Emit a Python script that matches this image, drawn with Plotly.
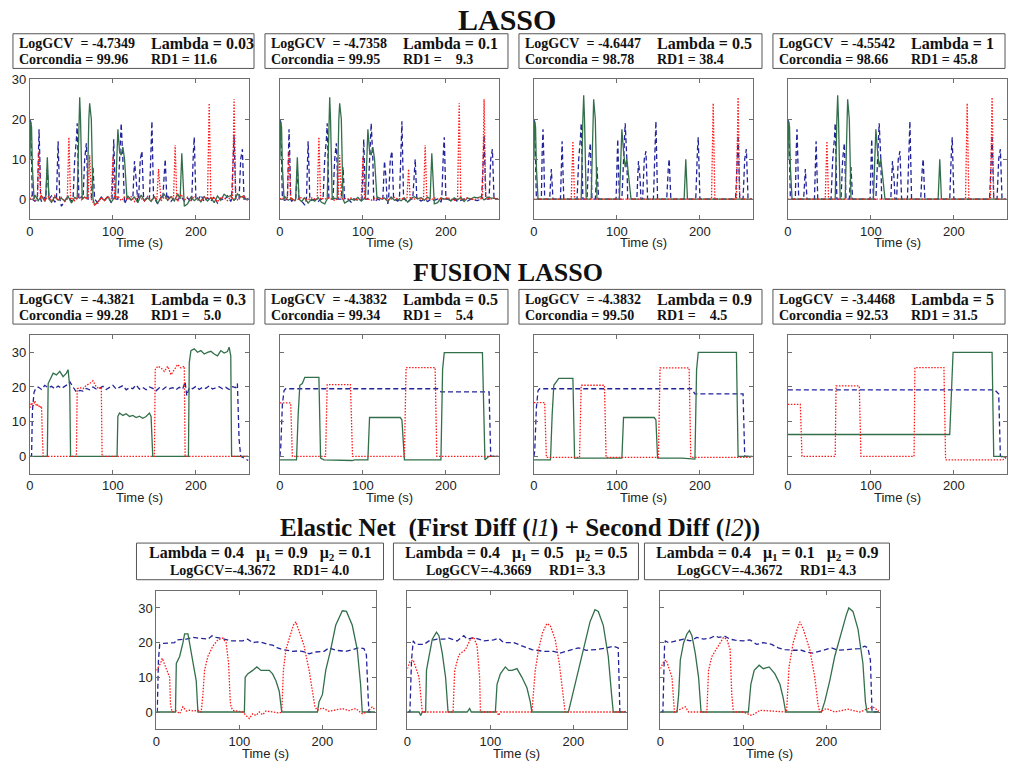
import numpy as np
import plotly.graph_objects as go

W, H = 1011, 767
X_MAX = 264

# ---------------- LASSO data ----------------
las_blue_t = [0, 1, 3, 9, 10, 11, 12, 13, 19, 21, 23, 32, 34, 35, 36, 52, 54, 56, 57, 58, 59, 64, 66, 68, 69, 70,
              74, 76, 78, 99, 101, 102, 103, 106, 108, 110, 112, 113, 124, 126, 128, 129, 131, 133, 135, 137,
              144, 146, 147, 149, 160, 162, 163, 165, 195, 197, 198, 200, 243, 245, 246, 248, 252, 254, 256, 258, 263]
las_blue_v = [20, 19, 0, 0, 12, 17.5, 10, 0, 0, 7.5, 0, 0, 14.5, 8, 0, 0, 10, 15, 19, 10, 0, 0, 10, 14, 8, 0,
              0, 8, 0, 0, 15, 8, 0, 0, 12, 19, 10, 0, 0, 9.5, 5, 0, 0, 10, 12, 0,
              0, 15, 19.5, 0, 0, 8, 10, 0, 0, 12, 15.5, 0, 0, 10, 16, 0, 0, 10, 12.5, 0, 0]

las_red_t = [0, 9, 11, 13, 45, 47, 49, 70, 72, 74, 98, 100, 102, 153, 155, 157, 173, 175, 177, 214, 216, 218, 244, 246, 248, 263]
las_red_v = [0, 0, 12, 0, 0, 15.5, 0, 0, 11, 0, 0, 10.5, 0, 0, 7.5, 0, 0, 13.5, 0, 0, 24, 0, 0, 25, 0, 0]

las_green_t = [0, 1, 2, 3, 5, 19, 21, 23, 57, 59, 60, 61, 63, 69, 71, 72, 74, 76, 103, 105, 106, 108, 110, 112, 114, 117, 181, 183, 185, 263]
las_green_v = [10, 19.5, 18, 8, 0, 0, 10.5, 0, 0, 20, 25.5, 20, 0, 0, 20, 24, 20, 0, 0, 15, 17.5, 12, 11, 13, 10, 0, 0, 11.5, 0, 0]

las_red_sparse_t = [0, 45, 47, 49, 214, 216, 218, 244, 246, 247, 248, 263]
las_red_sparse_v = [0, 0, 14.5, 0, 0, 24, 0, 0, 25.5, 16, 0, 0]

las_green_sparse_t = [0, 1, 2, 3, 5, 57, 59, 60, 61, 63, 69, 71, 72, 74, 76, 103, 105, 106, 108, 110, 112, 114, 117, 181, 183, 185, 263]
las_green_sparse_v = [10, 19.5, 18, 8, 0, 0, 20, 26, 20, 0, 0, 20, 25, 20, 0, 0, 15, 17.5, 12, 8, 10, 6, 0, 0, 10, 0, 0]

noise_t = [2, 6, 10, 14, 18, 22, 26, 30, 34, 38, 42, 46, 50, 54, 58, 62, 66, 70, 74, 78, 82, 86, 90, 94, 98, 102,
           106, 110, 114, 118, 122, 126, 130, 134, 138, 142, 146, 150, 154, 158, 162, 166, 170, 174, 178, 182,
           186, 190, 194, 198, 202, 206, 210, 214, 218, 222, 226, 230, 234, 238, 242, 246, 250, 254, 258, 262]

las1_blue_noise = [-1.5, -0.5, 0.4, -0.6, 0.5, -0.3, 0.8, -0.8, 0.3, -1.8,
                   -0.4, 0.6, -0.5, 0.4, -0.3, 0.6, -0.2, 0.8, -0.6, 0.2,
                   -1.0, 0.5, -0.3, 0.7, -0.9, 0.3, -0.5, 0.4, -1.2, 0.6,
                   -0.2, 0.9, -0.7, 0.3, -0.4, 0.6, -0.9, 0.2, -1.2, 0.5,
                   -0.3, 0.8, -0.6, 0.4, -0.2, 0.7, -0.5, 0.3, -0.8, 0.5,
                   -0.4, 1.0, -0.7, 0.3, -0.5, 0.6, -1.0, 0.2, -0.3, 0.8,
                   -0.6, 0.4, -0.2, 0.5, -0.8, 0.3]
las1_red_noise = [0.8, -0.4, 0.5, 1.0, -0.3, 0.6, -0.5, 0.9, -0.2, 0.4,
                  -0.6, 0.7, 0.3, -0.4, 0.8, -0.2, 0.5, -0.7, -1.2, -1.5,
                  -0.8, 0.4, -0.3, 0.6, -0.5, 0.3, 0.8, -0.4, 0.5, -0.2,
                  0.6, -0.6, 0.9, 0.2, -0.5, 0.7, -0.3, 0.4, 1.0, -0.4,
                  0.5, -0.2, 0.8, 0.3, -0.6, 1.2, -0.3, 0.5, -0.4, 0.7,
                  0.2, -0.5, 0.6, 0.9, -0.3, 0.4, -0.7, 0.5, 0.3, -0.4,
                  0.6, 1.0, -0.2, 0.5, 0.8, -0.3]
las1_green_noise = [0.5, 1.0, -0.4, 0.8, -0.6, 0.3, -0.8, 0.6, -0.3, 0.2,
                    -0.5, 0.7, -1.0, 0.4, -0.2, -1.2, 0.5, -0.7, 0.9, -1.5,
                    -0.6, 0.3, -0.4, 0.6, -0.8, 0.5, -0.3, 0.4, -0.6, 0.8,
                    -0.2, 0.5, -0.9, 1.0, -0.4, 0.3, -0.6, 0.7, -1.1, 0.4,
                    1.2, -0.3, 0.6, -0.5, 1.3, -0.8, -1.8, -1.2, 0.5, -0.4,
                    0.3, -0.7, 0.6, -0.5, 0.4, -0.9, 0.8, -0.3, 1.2, 0.5,
                    0.9, -0.4, 1.3, 0.6, 0.4, -0.2]

las2_blue_noise = [-1.0, -0.3, 0, -0.5, 0, 0, -0.4, -1.5, -0.8, -0.3,
                   0, -0.6, 0, 0, -0.3, 0, -0.5, -0.2, -1.0, -0.4,
                   0, -0.8, 0, -0.3, 0, -0.6, 0, -0.2, -0.7, 0,
                   -0.4, 0, -1.2, -0.3, 0, -0.5, -0.2, 0, -0.8, 0,
                   -0.3, 0, -0.5, 0, -0.6, 0, -0.3, 0, -0.7, -0.2,
                   0, -0.4, 0, -0.6, -0.3, 0, -0.5, 0, -0.2, -0.4,
                   0, -0.5, 0, -0.3, -0.6, 0]
las2_red_noise = [0.3, 0, 0.2, 0, -0.3, 0, 0.4, 0, -0.2, 0.3,
                  0, -0.4, 0.2, 0, 0.3, 0, -0.3, 0, -0.5, 0.2,
                  0, 0.3, 0, -0.2, 0, 0.4, 0, -0.3, 0.2, 0,
                  0.3, 0, -0.2, 0, 0.4, 0, 0.2, 0, -0.3, 0.2,
                  0, 0.3, 0, 0.5, 0, -0.2, 0.3, 0, 0.2, 0,
                  0.4, 0, -0.3, 0, 0.2, 0, 0.3, 0, -0.2, 0.3,
                  0, 0.4, 0.2, 0, 0.3, 0]
las2_green_noise = [0.4, 0.6, -0.3, 0.2, -0.4, 0, -0.6, 0.3, -1.0, 0,
                    -0.5, 0.4, -0.8, -1.2, 0, -0.9, 0.2, -0.4, 0.3, -1.0,
                    -0.5, 0, -0.3, 0.4, -0.5, 0.2, 0, 0.3, -0.4, 0.5,
                    0, 0.3, -0.6, 0.5, -0.3, 0, -0.4, 0.3, -0.8, 0.2,
                    0.6, 0, 0.4, -0.3, 0.5, -0.6, -1.2, -0.9, 0.3, 0,
                    0.2, -0.5, 0.3, -0.2, 0.4, -0.6, 0.3, 0, 0.5, 0.3,
                    0.6, -0.2, 0.5, 0.3, 0.2, 0]

# ---------------- FUSION LASSO data ----------------
fus1_blue_t = [0, 2, 3, 5, 7, 10, 14, 18, 22, 26, 30, 34, 38, 42, 46, 48, 52, 56, 60, 64, 68, 72, 76, 80, 84, 88, 92, 96,
               100, 104, 108, 112, 116, 120, 124, 128, 132, 136, 140, 144, 148, 152, 156, 160, 164, 168, 172, 176, 180,
               184, 187, 189, 192, 196, 200, 204, 208, 212, 216, 220, 224, 228, 232, 236, 240, 244, 248, 250, 252, 254, 258, 263]
fus1_blue_v = [0, 0, 13, 18.5, 19.5, 20, 19.3, 20.5, 19.8, 20.2, 19.5, 20.3, 19.6, 20.1, 20.8, 21.5, 19.8, 18.5, 19, 18.8,
               19.6, 19.2, 20, 19.4, 19.7, 20.2, 19.3, 19.8, 20.5, 19.4, 19.9, 20.4, 19.2, 19.8, 19.5, 20.6, 19.4, 19.9,
               19.2, 20, 19.6, 18.9, 19.8, 19.3, 20, 19.5, 19.8, 19.2, 19.9, 19.4, 21.5, 17.5, 19.8, 19.5, 20.2, 19.3,
               19.9, 19.6, 20.3, 19.4, 19.8, 20.1, 19.5, 19.9, 19.3, 20.1, 19.8, 21, 5, 0, -0.5, -1.2]
fus1_red_t = [0, 2, 4, 6, 8, 10, 12, 14, 15, 16, 56, 57, 60, 64, 68, 72, 76, 80, 84, 86, 87, 150, 151, 154, 158, 162, 166,
              170, 174, 178, 182, 186, 187, 263]
fus1_red_v = [14, 15.5, 14.5, 16, 14.5, 15, 14, 14.5, 6, 0, 0, 19.5, 19.8, 19.5, 20.5, 21, 21.8, 20, 19.5, 20, 0, 0, 25, 26,
              25.5, 24.5, 26, 23.5, 25, 26.5, 25.5, 26, 0, 0]
fus1_green_t = [0, 21, 22, 25, 28, 32, 36, 40, 44, 46, 48, 49, 105, 106, 108, 112, 116, 120, 124, 128, 132, 136, 140, 144,
                146, 148, 191, 192, 194, 198, 202, 206, 210, 214, 218, 222, 226, 230, 234, 238, 240, 242, 243, 263]
fus1_green_v = [0, 0, 21, 22.5, 24, 23.5, 24.5, 23, 24, 25, 20, 0, 0, 11.5, 12.5, 11.8, 12.3, 11.5, 11.8, 11.2, 11.6, 11,
                11.5, 12.5, 11.5, 0, 0, 27, 30.5, 31, 30, 30.5, 29.5, 30, 30.3, 29.5, 29, 30.5, 29.8, 30.2, 31.5, 29, 0, 0]

fus2_blue_t = [0, 1, 3, 5, 7, 190, 194, 252, 254, 263]
fus2_blue_v = [0, 2.6, 15, 19, 19.5, 19.5, 18.6, 18.6, 0, 0]
fus2_red_t = [0, 13, 15, 55, 57, 85, 87.5, 150, 152, 187, 189, 263]
fus2_red_v = [15.4, 15.4, 0, 0, 20.7, 20.7, 0, 0, 25.6, 25.6, 0, 0]
fus2_green_t = [0, 20, 22, 24, 27, 30, 47, 49, 53, 87, 90, 106, 108, 145, 147, 150, 194, 196, 198, 244, 247, 252, 263]
fus2_green_v = [-1, -1, 12, 20.5, 21, 22.8, 22.8, -0.5, -1, -1.2, -1, -1, 11.2, 11.2, 10.5, -1, -1, 25, 29.9, 29.9, -1, 0, 0]

fus3_blue_t = [0, 1, 3, 5, 7, 190, 194, 252, 254, 263]
fus3_blue_v = [0, 1.5, 14, 19, 19.5, 19.5, 18, 18, 0, 0]
fus3_red_t = [0, 13, 15, 55, 57, 85, 87, 150, 152, 187, 189, 263]
fus3_red_v = [15.5, 15.5, -0.3, -0.3, 20.5, 20.5, -0.3, -0.3, 25.5, 25.5, -0.3, -0.3]
fus3_green_t = [0, 20, 22, 24, 27, 30, 47, 49, 106, 108, 145, 147, 149, 178, 194, 196, 198, 244, 246, 263]
fus3_green_v = [-1, -1, 12, 20.5, 21.5, 22.5, 22.5, -0.5, -0.5, 11.2, 11.2, 10.5, -0.5, -0.5, -0.8, 25, 30, 30, 0, 0]

fus4_blue_t = [0, 249, 252, 254, 256, 263]
fus4_blue_v = [19.2, 19.2, 18.5, 18, 0, -0.5]
fus4_red_t = [0, 15, 17, 57, 58, 86, 88, 152, 153, 188, 190, 259, 263]
fus4_red_v = [15, 15, 0, 0, 20.3, 20.3, 0, 0, 25.6, 25.6, -1, -1, 0]
fus4_green_t = [0, 195, 199, 246, 248, 258, 263]
fus4_green_v = [6.3, 6.3, 30, 30, 0, 0, -0.3]

# ---------------- ELASTIC NET data ----------------
el1_blue_t = [0, 1, 2.5, 4, 8, 15, 22, 24, 30, 36, 44, 50, 56, 62, 67, 72, 78, 84, 90, 98, 104, 110, 116, 122, 128, 134,
              140, 146, 152, 158, 164, 170, 176, 184, 192, 202, 208, 216, 222, 228, 236, 244, 250, 253, 255, 256, 263]
el1_blue_v = [0, 0, 15, 19.5, 19.8, 19.8, 20, 20.8, 20.8, 21, 21.5, 21.3, 21.2, 21, 22, 21.5, 21.3, 21, 20.5, 20.5,
              20.5, 21, 20, 20.2, 20, 19.5, 19.3, 18.5, 18, 17.8, 17.5, 17.6, 17.5, 16.8, 17.3, 17.5, 18.5, 17.8, 17.6,
              17.5, 18, 18.5, 18.3, 16.5, 5, 0, 0]
el1_red_t = [0, 5, 7, 10, 14, 16, 17, 19, 24, 28, 32, 36, 40, 44, 50, 54, 56, 58, 62, 68, 74, 80, 84, 87, 89, 90, 92, 98,
             104, 108, 112, 116, 120, 124, 128, 132, 140, 148, 151, 153, 156, 160, 165, 168, 172, 178, 184, 189, 191,
             194, 200, 208, 216, 224, 232, 240, 248, 254, 260, 263]
el1_red_v = [12, 14, 15.5, 13.5, 11, 10, 2, 0, 0.3, -0.5, 1.5, 0.3, 0.5, 0.3, 0.5, 0, 5, 12, 16, 19, 20.8, 21.3, 20, 14,
             3, 1.5, 0.5, 0.2, 0, -1, -1.9, -0.5, -1, 0, -0.8, 0.3, 0, -0.3, 0, 12, 18, 21, 25, 26, 23, 19, 12, 5, 1.5,
             0.5, 1.2, 0.2, 0.5, 1, 0.4, 1, -0.5, 0, 1.5, 0.8]
el1_green_t = [0, 23, 24, 28, 32, 34, 38, 40, 44, 48, 50, 106, 107, 110, 116, 121, 126, 136, 140, 144, 148, 151, 194, 196,
               200, 204, 210, 216, 224, 229, 236, 242, 246, 248, 263]
el1_green_v = [0, 0, 14, 16, 20, 22.5, 22.5, 20, 14, 9, 0, 0, 10, 11, 12, 13, 12, 12, 11, 9, 6, 0, 0, 3, 5, 12, 18, 25,
               29.2, 29, 25, 18, 8, 0, 0]

el2_blue_t = [0, 3, 5, 7, 10, 20, 26, 36, 44, 50, 60, 68, 72, 80, 92, 104, 110, 116, 128, 140, 150, 164, 176, 184, 196,
              206, 216, 228, 240, 248, 254, 256, 263]
el2_blue_v = [0, 0, 15, 20.5, 19.5, 19.5, 20.5, 21, 21, 21.3, 20.5, 22, 21, 21.5, 20.5, 20.8, 21.3, 20, 20, 19, 18,
              17.5, 17.5, 17, 17.8, 18.5, 17.8, 18, 18.5, 19, 18.5, 0, 0]
el2_red_t = [0, 3, 7, 10, 14, 16, 18, 55, 57, 62, 70, 76, 80, 84, 87, 88, 108, 110, 112, 150, 154, 158, 163, 168, 172,
             178, 183, 187, 190, 263]
el2_red_v = [12.5, 14.5, 15, 13, 10, 5, 0, 0, 12, 16.5, 18, 21, 21.5, 19, 10, 0, 0, -1, 0, 0, 12, 18, 23, 25.5, 25, 21,
             14, 6, 0, 0]
el2_green_t = [0, 14, 16, 18, 22, 23, 26, 30, 35, 38, 42, 46, 49, 72, 75, 77, 106, 108, 112, 118, 122, 126, 132, 138,
               144, 148, 150, 194, 198, 204, 212, 220, 226, 230, 236, 242, 246, 248, 263]
el2_green_v = [0, 0, -1, 0, 0, 12, 16, 21, 23, 22, 17, 10, 0, 0, 1, 0, 0, 8, 11, 13, 12, 12, 12.5, 10, 7, 3, 0, 0, 4,
               10, 18, 26, 29.5, 29, 25, 16, 5, 0, 0]

el3_blue_t = [0, 3, 5, 6, 10, 20, 28, 36, 44, 52, 60, 66, 70, 78, 84, 90, 100, 108, 116, 124, 134, 142, 150, 160, 170,
              176, 184, 196, 206, 214, 228, 240, 246, 250, 253, 255, 263]
el3_blue_v = [0, 0, 19, 20.5, 20, 20.5, 21, 20.5, 21.5, 21, 21.3, 22, 21.5, 21.8, 21, 20.7, 20.5, 20.8, 19.5, 20, 19.5,
              18.5, 18, 17.8, 17.8, 17.3, 17, 17.8, 18.5, 17.8, 18, 18.3, 19, 18.5, 15, 0, 0]
el3_red_t = [0, 4, 7, 10, 14, 16, 17, 30, 34, 56, 58, 62, 70, 76, 80, 84, 86, 88, 100, 110, 120, 152, 155, 160, 165,
             168, 172, 180, 186, 190, 192, 200, 210, 226, 240, 256, 263]
el3_red_v = [12.5, 14.5, 15, 13, 10, 3, 0, 1.5, 0, 0, 12, 16, 19, 21.5, 21, 18, 5, 0, 0, -1, 0.5, 0, 13, 20, 24, 26, 24,
             18, 10, 2, 0, 1, 0, 0.8, 0, 1.5, 0.3]
el3_green_t = [0, 20, 22, 24, 28, 32, 35, 38, 42, 46, 49, 106, 109, 113, 119, 124, 131, 138, 144, 148, 151, 194, 198,
               204, 210, 218, 224, 227, 232, 238, 244, 247, 249, 263]
el3_green_v = [0, 0, 5, 15, 20, 22.5, 23.5, 22, 17, 10, 0, 0, 8, 12, 13.5, 12.5, 13, 11, 8, 4, 0, 0, 3, 9, 16, 23, 28,
               30, 29, 24, 14, 3, 0, 0]

# ---------------- text ----------------
lasso_gcv = ["-4.7349", "-4.7358", "-4.6447", "-4.5542"]
lasso_lambda = ["0.03", "0.1", "0.5", "1"]
lasso_corc = ["99.96", "99.95", "98.78", "98.66"]
lasso_rd1 = ["11.6", "\u00a0\u00a0\u00a09.3", "38.4", "45.8"]
fus_gcv = ["-4.3821", "-4.3832", "-4.3832", "-3.4468"]
fus_lambda = ["0.3", "0.5", "0.9", "5"]
fus_corc = ["99.28", "99.34", "99.50", "92.53"]
fus_rd1 = ["\u00a0\u00a0\u00a05.0", "\u00a0\u00a0\u00a05.4", "\u00a0\u00a0\u00a04.5", "31.5"]
el_lambda = ["0.4", "0.4", "0.4"]
el_mu1 = ["0.9", "0.5", "0.1"]
el_mu2 = ["0.1", "0.5", "0.9"]
el_gcv = ["-4.3672", "-4.3669", "-4.3672"]
el_rd1 = ["4.0", "3.3", "4.3"]


def merge(st, sv, nt, nv):
    sta = np.array(st, float)
    sva = np.array(sv, float)
    pts = list(zip(st, sv))
    for t, v in zip(nt, nv):
        i = int(np.searchsorted(sta, t))
        if i < len(sta) and sta[i] == t:
            continue
        if i == 0 or i >= len(sta) or (sva[i - 1] == 0 and sva[i] == 0):
            pts.append((t, v))
    pts.sort()
    return [p[0] for p in pts], [p[1] for p in pts]


BLUE = "#23239a"
RED = "#ff1a1a"
GREEN = "#336f4b"

lasso_series = [
    (merge(las_blue_t, las_blue_v, noise_t, las1_blue_noise),
     merge(las_green_t, las_green_v, noise_t, las1_green_noise),
     merge(las_red_t, las_red_v, noise_t, las1_red_noise)),
    (merge(las_blue_t, las_blue_v, noise_t, las2_blue_noise),
     merge(las_green_t, las_green_v, noise_t, las2_green_noise),
     merge(las_red_t, las_red_v, noise_t, las2_red_noise)),
    ((las_blue_t, las_blue_v), (las_green_sparse_t, las_green_sparse_v), (las_red_sparse_t, las_red_sparse_v)),
    ((las_blue_t, las_blue_v), (las_green_sparse_t, las_green_sparse_v), (las_red_sparse_t, las_red_sparse_v)),
]
fus_series = [
    ((fus1_blue_t, fus1_blue_v), (fus1_green_t, fus1_green_v), (fus1_red_t, fus1_red_v)),
    ((fus2_blue_t, fus2_blue_v), (fus2_green_t, fus2_green_v), (fus2_red_t, fus2_red_v)),
    ((fus3_blue_t, fus3_blue_v), (fus3_green_t, fus3_green_v), (fus3_red_t, fus3_red_v)),
    ((fus4_blue_t, fus4_blue_v), (fus4_green_t, fus4_green_v), (fus4_red_t, fus4_red_v)),
]
el_series = [
    ((el1_blue_t, el1_blue_v), (el1_green_t, el1_green_v), (el1_red_t, el1_red_v)),
    ((el2_blue_t, el2_blue_v), (el2_green_t, el2_green_v), (el2_red_t, el2_red_v)),
    ((el3_blue_t, el3_blue_v), (el3_green_t, el3_green_v), (el3_red_t, el3_red_v)),
]

# panel layout in pixels
cols4 = [(26, 246), (277, 497), (532, 752), (787, 1007)]
cols3 = [(153, 373), (405, 625), (659, 879)]
rows = [(73, 214, [-5, 30]), (331, 471, [-5, 35]), (589, 729, [-5, 35])]

panels = []
for i in range(4):
    panels.append((cols4[i], rows[0], lasso_series[i], i == 0))
for i in range(4):
    panels.append((cols4[i], rows[1], fus_series[i], i == 0))
for i in range(3):
    panels.append((cols3[i], rows[2], el_series[i], i == 0))

fig = go.Figure()
layout = dict(width=W, height=H, margin=dict(l=0, r=0, t=0, b=0), paper_bgcolor="white",
              plot_bgcolor="white", showlegend=False)

def px(x):
    return x / W

def py(y):
    return 1 - y / H

annotations = []
shapes = []
AX = "#6e6e6e"
for k, ((x0, x1), (y0, y1, yr), series, showy) in enumerate(panels):
    n = "" if k == 0 else str(k + 1)
    layout["xaxis" + n] = dict(domain=[px(x0), px(x1)], range=[0, X_MAX], anchor="y" + n,
                               tickvals=[0, 100, 200], ticks="inside", ticklen=4, tickcolor=AX,
                               showline=True, linecolor=AX, linewidth=1, mirror="ticks",
                               showgrid=False, zeroline=False,
                               tickfont=dict(family="Liberation Sans", size=13, color="#222"))
    layout["yaxis" + n] = dict(domain=[py(y1), py(y0)], range=yr, anchor="x" + n,
                               tickvals=[0, 10, 20, 30], ticks="inside", ticklen=4, tickcolor=AX,
                               showline=True, linecolor=AX, linewidth=1, mirror="ticks",
                               showgrid=False, zeroline=False, showticklabels=showy,
                               tickfont=dict(family="Liberation Sans", size=13, color="#222"))
    (bt, bv), (gt, gv), (rt, rv) = series
    fig.add_trace(go.Scatter(x=bt, y=bv, mode="lines", xaxis="x" + n, yaxis="y" + n,
                             line=dict(color=BLUE, width=1.3, dash="5px,3px")))
    fig.add_trace(go.Scatter(x=gt, y=gv, mode="lines", xaxis="x" + n, yaxis="y" + n,
                             line=dict(color=GREEN, width=1.3)))
    fig.add_trace(go.Scatter(x=rt, y=rv, mode="lines", xaxis="x" + n, yaxis="y" + n,
                             line=dict(color=RED, width=1.3, dash="1.5px,1.5px")))
    annotations.append(dict(x=px((x0 + x1) / 2), y=py(y1 + 24), xref="paper", yref="paper",
                            text="Time (s)", showarrow=False, xanchor="center", yanchor="middle",
                            font=dict(family="Liberation Sans", size=13, color="#222")))

# titles
annotations.append(dict(x=px(505), y=py(13), xref="paper", yref="paper", text="<b>LASSO</b>",
                        showarrow=False, xanchor="center", yanchor="middle",
                        font=dict(family="Liberation Serif", size=30, color="#111")))
annotations.append(dict(x=px(506), y=py(268), xref="paper", yref="paper", text="<b>FUSION LASSO</b>",
                        showarrow=False, xanchor="center", yanchor="middle",
                        font=dict(family="Liberation Serif", size=26, color="#111")))
annotations.append(dict(x=px(518), y=py(526), xref="paper", yref="paper",
                        text="<b>Elastic Net\u00a0\u00a0(First Diff (</b><i>l1</i><b>) + Second Diff (</b><i>l2</i><b>))</b>",
                        showarrow=False, xanchor="center", yanchor="middle",
                        font=dict(family="Liberation Serif", size=25, color="#111")))

BOXC = "#555"
SF = "Liberation Serif"
box_cols = [(9, 251), (262, 506), (517, 761), (772, 1005)]

def param_box(bx0, bx1, by0, by1, gcv, lam, corc, rd1):
    shapes.append(dict(type="rect", xref="paper", yref="paper", x0=px(bx0), x1=px(bx1), y0=py(by1), y1=py(by0),
                       line=dict(color=BOXC, width=1)))
    l1 = by0 + 10
    l2 = by0 + 26
    annotations.append(dict(x=px(bx0 + 4), y=py(l1), xref="paper", yref="paper", xanchor="left", yanchor="middle",
                            text="<b>LogGCV\u00a0\u00a0= " + gcv + "</b>", showarrow=False,
                            font=dict(family=SF, size=14, color="#111")))
    annotations.append(dict(x=px(bx0 + 137), y=py(l1), xref="paper", yref="paper", xanchor="left", yanchor="middle",
                            text="<b>Lambda = " + lam + "</b>", showarrow=False,
                            font=dict(family=SF, size=16, color="#111")))
    annotations.append(dict(x=px(bx0 + 4), y=py(l2), xref="paper", yref="paper", xanchor="left", yanchor="middle",
                            text="<b>Corcondia = " + corc + "</b>", showarrow=False,
                            font=dict(family=SF, size=14, color="#111")))
    annotations.append(dict(x=px(bx0 + 137), y=py(l2), xref="paper", yref="paper", xanchor="left", yanchor="middle",
                            text="<b>RD1 = " + rd1 + "</b>", showarrow=False,
                            font=dict(family=SF, size=14, color="#111")))

for i in range(4):
    param_box(box_cols[i][0], box_cols[i][1], 27, 62, lasso_gcv[i], lasso_lambda[i], lasso_corc[i], lasso_rd1[i])
    param_box(box_cols[i][0], box_cols[i][1], 285, 320, fus_gcv[i], fus_lambda[i], fus_corc[i], fus_rd1[i])

el_boxes = [(133, 381), (391, 637), (643, 889)]
for i in range(3):
    bx0, bx1 = el_boxes[i]
    shapes.append(dict(type="rect", xref="paper", yref="paper", x0=px(bx0), x1=px(bx1), y0=py(578), y1=py(541),
                       line=dict(color=BOXC, width=1)))
    cx = px((bx0 + bx1) / 2)
    annotations.append(dict(x=cx, y=py(552), xref="paper", yref="paper", xanchor="center", yanchor="middle",
                            text="<b>Lambda = " + el_lambda[i] + "\u00a0\u00a0\u00a0\u03bc<sub>1</sub> = " + el_mu1[i]
                                 + "\u00a0\u00a0\u00a0\u03bc<sub>2</sub> = " + el_mu2[i] + "</b>",
                            showarrow=False, font=dict(family=SF, size=16, color="#111")))
    annotations.append(dict(x=cx, y=py(569), xref="paper", yref="paper", xanchor="center", yanchor="middle",
                            text="<b>LogGCV=" + el_gcv[i] + "\u00a0\u00a0\u00a0\u00a0\u00a0RD1= " + el_rd1[i] + "</b>",
                            showarrow=False, font=dict(family=SF, size=14, color="#111")))

layout["annotations"] = annotations
layout["shapes"] = shapes
fig.update_layout(**layout)
fig.write_html("out.html", config={"displayModeBar": False},
               post_script="document.body.style.margin='0';")
